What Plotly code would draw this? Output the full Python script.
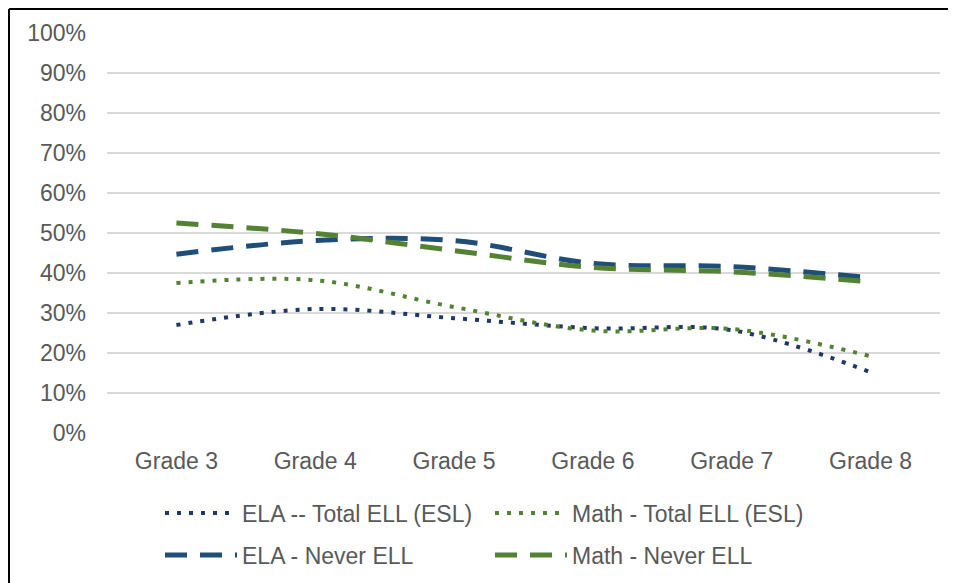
import plotly.graph_objects as go

grades = ["Grade 3", "Grade 4", "Grade 5", "Grade 6", "Grade 7", "Grade 8"]
ela_total_ell = [0.270, 0.310, 0.287, 0.262, 0.257, 0.152]
math_total_ell = [0.375, 0.382, 0.315, 0.256, 0.260, 0.192]
ela_never_ell = [0.447, 0.481, 0.481, 0.424, 0.416, 0.388]
math_never_ell = [0.525, 0.499, 0.456, 0.414, 0.403, 0.378]

W, H = 956, 583
L, R, T, B = 99, 24, 25, 158
pw, ph = W - L - R, H - T - B

NAVY = "#203864"
BLUE = "#1F4E79"
GREEN = "#548235"
FONT = "Liberation Sans, Arial, sans-serif"
TXT = "#595959"
FS = 23

# (name, values, colour, width, dash, legend id, legend left px, legend centre y px)
series = [
    ("ELA -- Total ELL (ESL)", ela_total_ell, NAVY, 4, "4px,8px", "legend", 152, 505),
    ("Math - Total ELL (ESL)", math_total_ell, GREEN, 4, "4px,8px", "legend2", 482, 505),
    ("ELA - Never ELL", ela_never_ell, BLUE, 5, "22px,13px", "legend3", 152, 547),
    ("Math - Never ELL", math_never_ell, GREEN, 5, "22px,13px", "legend4", 482, 547),
]

fig = go.Figure()
legends = {}
for name, vals, col, w, dash, lg, lx, ly in series:
    fig.add_trace(go.Scatter(
        x=grades, y=vals, name=name, mode="lines",
        line=dict(color=col, width=w, dash=dash, shape="spline", smoothing=1.0),
        legend=lg, hoverinfo="skip",
    ))
    legends[lg] = dict(
        x=(lx - L) / pw, y=-(ly - (T + ph)) / ph,
        xanchor="left", yanchor="middle", orientation="h",
        itemwidth=72,
        font=dict(family=FONT, size=FS, color=TXT),
        bgcolor="rgba(0,0,0,0)",
    )

bx0 = (1 - L) / pw
bx1 = (1000 - L) / pw
by_top = ((T + ph) - 1) / ph
by_bot = -(640 - (T + ph)) / ph
border = dict(color="black", width=2)

fig.update_layout(
    width=W, height=H,
    margin=dict(l=L, r=R, t=T, b=B, autoexpand=False),
    paper_bgcolor="white", plot_bgcolor="white",
    font=dict(family=FONT, size=FS, color=TXT),
    showlegend=True,
    xaxis=dict(
        range=[-0.5, 5.5],
        showgrid=False, showline=False, zeroline=False, ticks="",
        tickfont=dict(family=FONT, size=FS, color=TXT),
        ticklabelstandoff=12,
    ),
    yaxis=dict(
        range=[0, 1.0], dtick=0.1, tickformat=".0%",
        showgrid=True, gridcolor="#D9D9D9", gridwidth=1.5,
        zeroline=False, showline=False, ticks="",
        tickfont=dict(family=FONT, size=FS, color=TXT),
        ticklabelstandoff=20,
    ),
    shapes=[
        dict(type="line", xref="paper", yref="paper",
             x0=bx0, x1=bx1, y0=by_top, y1=by_top, line=border, layer="above"),
        dict(type="line", xref="paper", yref="paper",
             x0=bx0, x1=bx0, y0=by_top, y1=by_bot, line=border, layer="above"),
    ],
    **legends,
)

fig.write_html("out.html")
